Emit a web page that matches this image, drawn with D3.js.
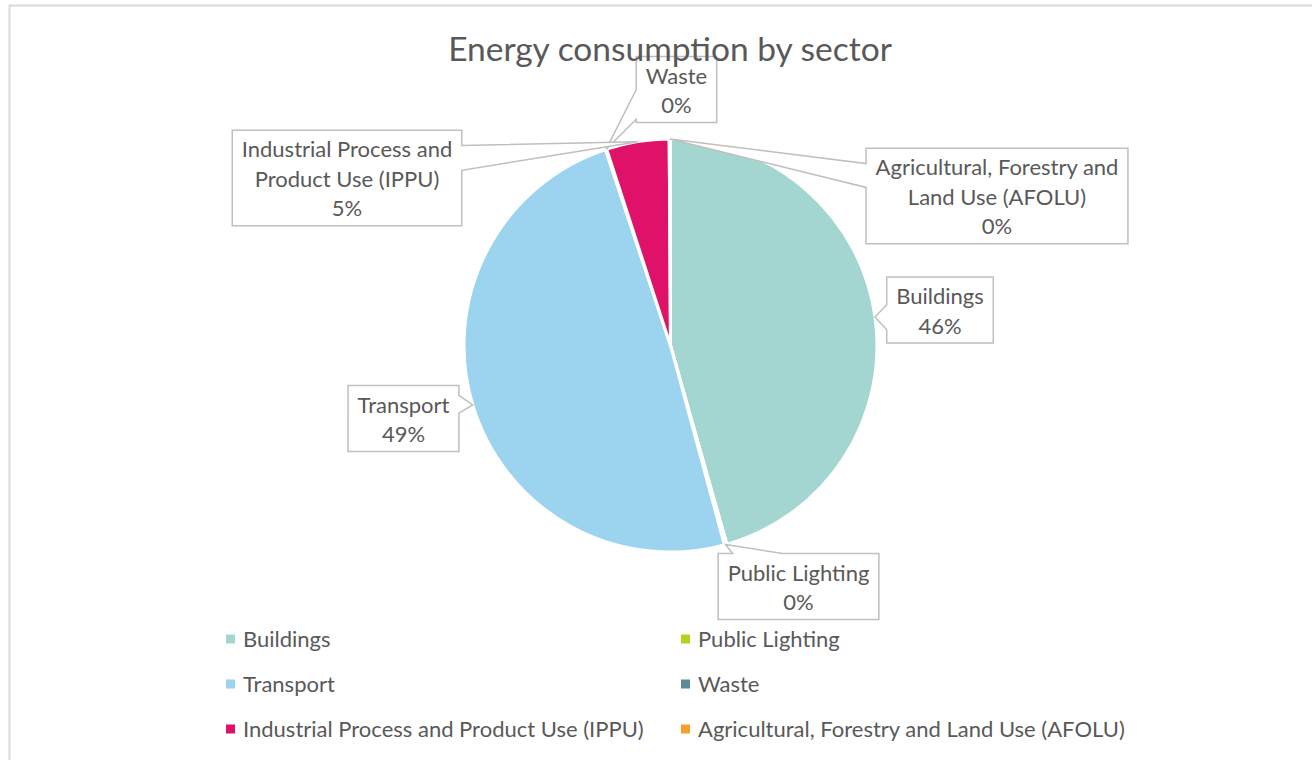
<!DOCTYPE html>
<html>
<head>
<meta charset="utf-8">
<script src="https://cdn.jsdelivr.net/npm/d3@7"></script>
<style>
  html, body { margin: 0; padding: 0; background: #fff; }
  svg { display: block; font-family: Lato, "Open Sans", sans-serif; }
</style>
</head>
<body>
<svg id="chart" width="1312" height="760"></svg>
<script>
// Sector shares of energy consumption (percent)
const sectors = ["Buildings", "Public Lighting", "Transport", "Waste",
  "Industrial Process and Product Use (IPPU)", "Agricultural, Forestry and Land Use (AFOLU)"];
const shares = [45.6, 0.2, 49.1, 0.1, 4.9, 0.1];
const colors = ["#a3d6d1", "#b3d41d", "#9cd4ef", "#5c8b97", "#df1169", "#f69f2e"];
// Data label text lines (category name broken into lines)
const labelLines = [
  ["Buildings"],
  ["Public Lighting"],
  ["Transport"],
  ["Waste"],
  ["Industrial Process and", "Product Use (IPPU)"],
  ["Agricultural, Forestry and", "Land Use (AFOLU)"]
];
const title = "Energy consumption by sector";

const W = 1312, H = 760;
const svg = d3.select("#chart");
const textColor = "#595959";
const calloutStroke = "#bfbfbf";

// chart area frame
svg.append("rect")
  .attr("x", 9.5).attr("y", 5.5)
  .attr("width", W + 20).attr("height", H + 20)
  .attr("fill", "none").attr("stroke", "#d9d9d9").attr("stroke-width", 2);

const cx = 670.5, cy = 345.5, R = 206.5;
const total = d3.sum(shares);
const data = sectors.map((s, i) => ({ name: s, value: shares[i], color: colors[i], lines: labelLines[i] }));

const pie = d3.pie().value(d => d.value).sort(null).startAngle(0).endAngle(2 * Math.PI);
const arc = d3.arc().innerRadius(0).outerRadius(R);
const arcs = pie(data);

const gPie = svg.append("g").attr("transform", `translate(${cx},${cy})`);
gPie.selectAll("path.slice")
  .data(arcs)
  .join("path")
  .attr("class", "slice")
  .attr("d", arc)
  .attr("fill", d => d.data.color)
  .attr("stroke", "#fff")
  .attr("stroke-width", 3)
  .attr("stroke-linejoin", "round");

// Callout placement: box centre, the side the pointer leaves from and
// the span of that side (as fractions) that forms the pointer base.
const calloutLayout = {
  "Buildings": { c: [940, 310], side: "left", base: [0.42, 0.8] },
  "Public Lighting": { c: [798.5, 586.5], side: "top", base: [0.09, 0.4] },
  "Transport": { c: [403.5, 418.5], side: "right", base: [0.15, 0.42] },
  "Waste": { c: [676.5, 89.5], side: "left", base: [0.5, 0.95] },
  "Industrial Process and Product Use (IPPU)": { c: [347, 178], side: "right", base: [0.16, 0.42] },
  "Agricultural, Forestry and Land Use (AFOLU)": { c: [997, 196], side: "left", base: [0.16, 0.41] }
};

const fmt = d3.format(".0%");
const labelFont = 22, lineH = 29.5, padX = 9.5, padY = 3.5;
const gLabels = svg.append("g");

arcs.forEach(a => {
  const lay = calloutLayout[a.data.name];
  const lines = a.data.lines.concat([fmt(a.data.value / total)]);
  const g = gLabels.append("g");
  const path = g.append("path");
  const texts = g.selectAll("text").data(lines).join("text")
    .attr("text-anchor", "middle")
    .attr("fill", textColor)
    .attr("font-size", labelFont)
    .text(d => d);
  let tw = 0;
  texts.each(function () { tw = Math.max(tw, this.getComputedTextLength()); });
  const bw = tw + 2 * padX, bh = lines.length * lineH + 2 * padY;
  const x0 = lay.c[0] - bw / 2, y0 = lay.c[1] - bh / 2, x1 = x0 + bw, y1 = y0 + bh;
  texts.attr("x", lay.c[0])
    .attr("y", (d, i) => y0 + padY + lineH * (i + 0.5))
    .attr("dy", "0.4em");

  // pointer tip on the pie rim at the slice's mid-angle
  const mid = (a.startAngle + a.endAngle) / 2;
  const tip = [cx + Math.sin(mid) * R, cy - Math.cos(mid) * R];

  let pts;
  const [f0, f1] = lay.base;
  if (lay.side === "left") {
    const b0 = y0 + f0 * bh, b1 = y0 + f1 * bh;
    pts = [[x0, y0], [x1, y0], [x1, y1], [x0, y1], [x0, b1], tip, [x0, b0]];
  } else if (lay.side === "right") {
    const b0 = y0 + f0 * bh, b1 = y0 + f1 * bh;
    pts = [[x0, y0], [x1, y0], [x1, b0], tip, [x1, b1], [x1, y1], [x0, y1]];
  } else if (lay.side === "top") {
    const b0 = x0 + f0 * bw, b1 = x0 + f1 * bw;
    pts = [[x0, y0], [b0, y0], tip, [b1, y0], [x1, y0], [x1, y1], [x0, y1]];
  } else {
    const b0 = x0 + f0 * bw, b1 = x0 + f1 * bw;
    pts = [[x0, y0], [x1, y0], [x1, y1], [b1, y1], tip, [b0, y1], [x0, y1]];
  }
  path.attr("d", d3.line()(pts) + "Z")
    .attr("fill", "#fff")
    .attr("stroke", calloutStroke)
    .attr("stroke-width", 1.5)
    .attr("stroke-linejoin", "miter");
  path.lower();
});

// title
svg.append("text")
  .attr("x", 670).attr("y", 61)
  .attr("text-anchor", "middle")
  .attr("fill", textColor)
  .attr("font-size", 33.5)
  .text(title);

// legend: two columns, three rows
const legendCols = [226, 681];
const legendRows = [639, 684, 729];
const legendOrder = [0, 2, 4, 1, 3, 5];
const gLegend = svg.append("g");
legendOrder.forEach((idx, k) => {
  const col = Math.floor(k / 3), row = k % 3;
  const x = legendCols[col], y = legendRows[row];
  gLegend.append("rect")
    .attr("x", x).attr("y", y - 4.5)
    .attr("width", 9).attr("height", 9)
    .attr("fill", data[idx].color);
  gLegend.append("text")
    .attr("x", x + 17).attr("y", y)
    .attr("dy", "0.36em")
    .attr("fill", textColor)
    .attr("font-size", labelFont)
    .text(data[idx].name);
});
</script>
</body>
</html>
